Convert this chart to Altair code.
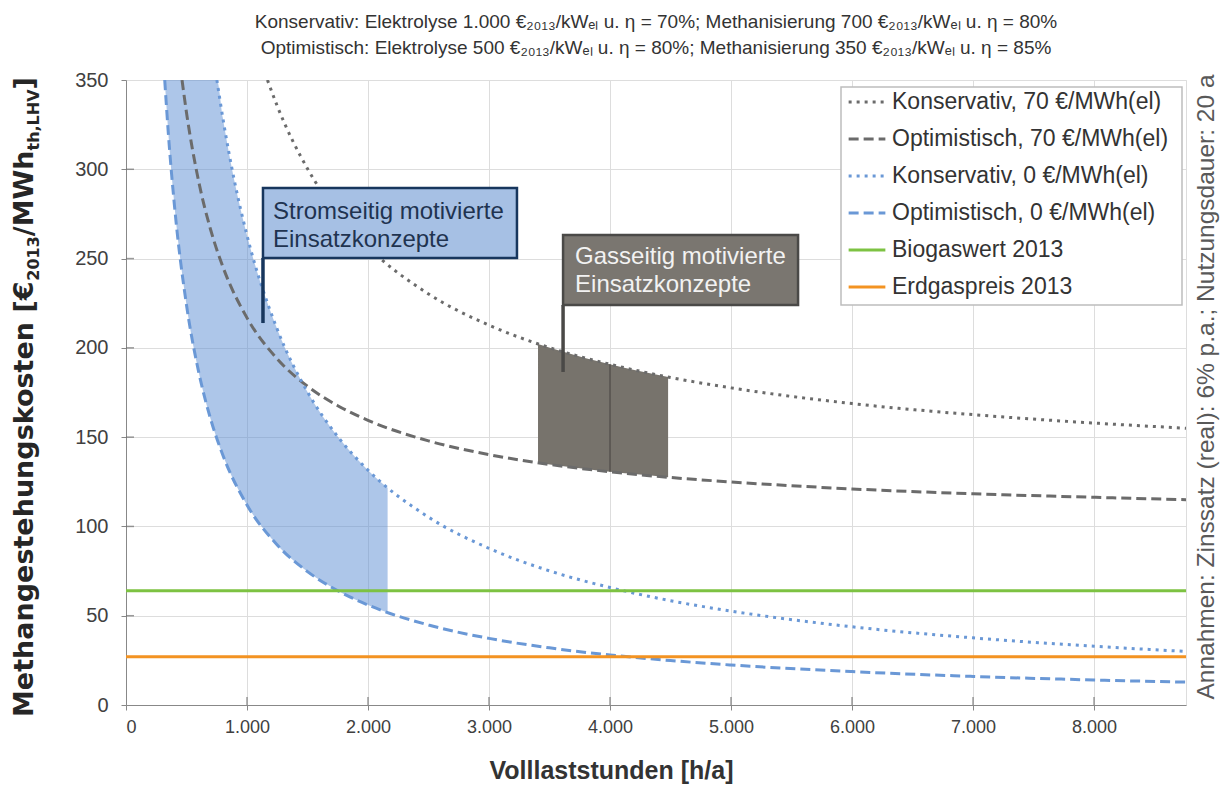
import altair as alt
import pandas as pd

# ---------------- data ----------------
S_K70 = "Konservativ, 70 €/MWh(el)"
S_O70 = "Optimistisch, 70 €/MWh(el)"
S_K0 = "Konservativ, 0 €/MWh(el)"
S_O0 = "Optimistisch, 0 €/MWh(el)"
S_BIO = "Biogaswert 2013"
S_ERD = "Erdgaspreis 2013"
series_names = [S_K70, S_O70, S_K0, S_O0, S_BIO, S_ERD]
series_colors = ["#6b6b6b", "#6b6b6b", "#6a98d6", "#6a98d6", "#7dc242", "#f39322"]
series_dashes = [[3, 5], [10, 5], [3, 5], [10, 5], [1, 0], [1, 0]]

k70_h = [1169, 1250, 1500, 1750, 2000, 2500, 3000, 3500, 4000, 4500, 5000, 6000, 7000, 8000, 8760]
k70_c = [350, 335.4, 300.3, 275.3, 256.5, 230.2, 212.7, 200.1, 190.8, 183.4, 177.6, 168.8, 162.6, 157.9, 155.0]
o70_h = [463, 500, 600, 700, 800, 1000, 1250, 1500, 1750, 2000, 2500, 3000, 3500, 4000, 4500, 5000, 6000, 7000, 8000, 8760]
o70_c = [350, 331.7, 293.4, 266.0, 245.5, 216.8, 193.8, 178.5, 167.6, 159.4, 147.9, 140.2, 134.7, 130.6, 127.4, 124.9, 121.0, 118.3, 116.3, 115.0]
k0_h = [751, 800, 900, 1000, 1250, 1500, 1750, 2000, 2500, 3000, 3500, 4000, 4500, 5000, 6000, 7000, 8000, 8760]
k0_c = [350, 328.8, 292.2, 263.0, 210.4, 175.3, 150.3, 131.5, 105.2, 87.7, 75.1, 65.8, 58.4, 52.6, 43.8, 37.6, 32.9, 30.0]
o0_h = [320, 350, 400, 500, 600, 700, 800, 1000, 1250, 1500, 1750, 2000, 2500, 3000, 3500, 4000, 4500, 5000, 6000, 7000, 8000, 8760]
o0_c = [350, 320, 280, 224, 186.7, 160, 140, 112, 89.6, 74.7, 64, 56, 44.8, 37.3, 32, 28, 24.9, 22.4, 18.7, 16, 14, 12.8]
flat_h = [0, 8760]
biogas_c = [64, 64]
erdgas_c = [27, 27]

# Stromseitig band (blue)
band_h = [320, 350, 400, 500, 600, 700, 751, 800, 900, 1000, 1250, 1500, 1750, 2000, 2162]
band_lo = [350, 320, 280, 224, 186.7, 160, 149.1, 140, 124.4, 112, 89.6, 74.7, 64, 56, 51.8]
band_hi = [350, 350, 350, 350, 350, 350, 350, 328.8, 292.2, 263.0, 210.4, 175.3, 150.3, 131.5, 121.6]

# Gasseitig band (grey)
gas_h = [3405, 3600, 3800, 4000, 4200, 4480]
gas_hi = [202.2, 198.1, 194.2, 190.8, 187.6, 183.7]
gas_lo = [135.6, 133.8, 132.1, 130.6, 129.3, 127.5]
gas_mid_h = [4000]
gas_mid_lo = [130.6]
gas_mid_hi = [190.8]

# Callouts (data coordinates)
strom_box = {"x": [1132], "x2": [3231], "y": [250.3], "y2": [289.5]}
strom_ptr = {"x": [1132], "y": [213.9], "y2": [250.3]}
strom_text = {"x": [1215, 1215], "y": [276.0, 260.4], "t": ["Stromseitig motivierte", "Einsatzkonzepte"]}
gas_box = {"x": [3612], "x2": [5554], "y": [224.0], "y2": [263.2]}
gas_ptr = {"x": [3612], "y": [186.5], "y2": [224.0]}
gas_text = {"x": [3711, 3711], "y": [250.9, 235.2], "t": ["Gasseitig motivierte", "Einsatzkonzepte"]}

x_ticks = [0, 1000, 2000, 3000, 4000, 5000, 6000, 7000, 8000]
y_ticks = [0, 50, 100, 150, 200, 250, 300, 350]

title_lines = [
    "Konservativ: Elektrolyse 1.000 €₂₀₁₃/kWₑₗ u. η = 70%; Methanisierung 700 €₂₀₁₃/kWₑₗ u. η = 80%",
    "Optimistisch: Elektrolyse 500 €₂₀₁₃/kWₑₗ u. η = 80%; Methanisierung 350 €₂₀₁₃/kWₑₗ u. η = 85%",
]
ytitle_parts = ["Methangestehungskosten [€", "2013", "/MWh", "th,LHV", "]"]
side_note = "Annahmen: Zinssatz (real): 6% p.a.; Nutzungsdauer: 20 a"

# ---------------- tables ----------------
rows = []
for name, hs, cs in [(S_K70, k70_h, k70_c), (S_O70, o70_h, o70_c), (S_K0, k0_h, k0_c),
                     (S_O0, o0_h, o0_c), (S_BIO, flat_h, biogas_c), (S_ERD, flat_h, erdgas_c)]:
    for h, c in zip(hs, cs):
        rows.append({"s": name, "h": h, "c": c})
lines_df = pd.DataFrame(rows)
band_df = pd.DataFrame({"h": band_h, "lo": band_lo, "hi": band_hi})
gas_df = pd.DataFrame({"h": gas_h, "lo": gas_lo, "hi": gas_hi})
gas_mid_df = pd.DataFrame({"h": gas_mid_h, "lo": gas_mid_lo, "hi": gas_mid_hi})
xt_df = pd.DataFrame({"v": x_ticks[1:]})
yt_df = pd.DataFrame({"v": y_ticks[1:-1]})

FONT = "Liberation Sans, Arial, Helvetica, sans-serif"

x_scale = alt.Scale(domain=[0, 8760], nice=False, zero=False)
y_scale = alt.Scale(domain=[0, 350], nice=False)

x_axis = alt.Axis(values=x_ticks, labelExpr="replace(format(datum.value, ','), ',', '.')",
                  title="Volllaststunden [h/a]", titleFont=FONT, titleFontSize=25, titleFontWeight="bold",
                  titleColor="#333333", titlePadding=22, titleX=485, titleAnchor="middle",
                  labelFont=FONT, labelFontSize=18, labelColor="#404040", labelPadding=8)
y_axis = alt.Axis(values=y_ticks, title=None, labelFont=FONT, labelFontSize=20,
                  labelColor="#404040", labelPadding=13)

X = lambda f: alt.X(f, scale=x_scale, axis=x_axis)
Y = lambda f: alt.Y(f, scale=y_scale, axis=y_axis)

band = alt.Chart(band_df).mark_area(color="#5b8dd3", opacity=0.5, interpolate="monotone", clip=True).encode(
    x=X("h:Q"), y=Y("lo:Q"), y2="hi:Q")
gas = alt.Chart(gas_df).mark_area(color="#77736c", opacity=1, interpolate="monotone").encode(
    x=X("h:Q"), y=Y("lo:Q"), y2="hi:Q")
gas_mid = alt.Chart(gas_mid_df).mark_rule(color="#55524e", strokeWidth=1.5).encode(
    x=X("h:Q"), y=Y("lo:Q"), y2="hi:Q")

# small inward ticks on both axes
xticks_in = alt.Chart(xt_df).mark_tick(color="#6f6f6f", thickness=1.5, size=8).encode(
    x=X("v:Q"), y=alt.value(621))
yticks_in = alt.Chart(yt_df).mark_tick(color="#6f6f6f", thickness=1.5, size=8).encode(
    y=Y("v:Q"), x=alt.value(4))

legend = alt.Legend(title=None, orient="none", legendX=715, legendY=-4, fillColor="transparent",
                    strokeColor="transparent", padding=6, labelFont=FONT, labelFontSize=23,
                    labelColor="#333333", symbolType="stroke", symbolStrokeWidth=3,
                    symbolSize=1350, rowPadding=5, labelOffset=5, labelLimit=0)

# legend frame
legend_box = alt.Chart(pd.DataFrame({"k": [0]})).mark_rect(
    fill="white", stroke="#bdbdbd", strokeWidth=1.5).encode(
    x=alt.value(715), x2=alt.value(1056), y=alt.value(7), y2=alt.value(225))

lines = alt.Chart(lines_df).mark_line(strokeWidth=3, interpolate="monotone", clip=True).encode(
    x=X("h:Q"), y=Y("c:Q"),
    color=alt.Color("s:N", scale=alt.Scale(domain=series_names, range=series_colors), legend=legend),
    strokeDash=alt.StrokeDash("s:N", scale=alt.Scale(domain=series_names, range=series_dashes), legend=legend),
)

def callout(box, ptr, txt, fill, stroke, tcolor):
    b = alt.Chart(pd.DataFrame(box)).mark_rect(fill=fill, stroke=stroke, strokeWidth=2.5).encode(
        x=X("x:Q"), x2="x2:Q", y=Y("y:Q"), y2="y2:Q")
    p = alt.Chart(pd.DataFrame(ptr)).mark_rule(color=stroke, strokeWidth=3.5).encode(
        x=X("x:Q"), y=Y("y:Q"), y2="y2:Q")
    t = alt.Chart(pd.DataFrame(txt)).mark_text(align="left", baseline="middle", font=FONT,
                                               fontSize=24, color=tcolor).encode(
        x=X("x:Q"), y=Y("y:Q"), text="t:N")
    return [p, b, t]

strom = callout(strom_box, strom_ptr, strom_text, "#a6c0e4", "#17365d", "#1f3350")
gasc = callout(gas_box, gas_ptr, gas_text, "#7a7670", "#4a4947", "#f2f2f2")

# y-axis title built from pieces (normal + subscript)
YT_FONT = "DejaVu Sans, Liberation Sans, sans-serif"
big, small = 27, 16
base_x, sub_x = -93, -87
starts = [637, 200.7, 156.2, 70.5, 9.4]
ytitle_layers = []
for i, (txt, yy) in enumerate(zip(ytitle_parts, starts)):
    is_sub = i in (1, 3)
    ytitle_layers.append(
        alt.Chart(pd.DataFrame({"t": [txt]})).mark_text(
            align="left", baseline="alphabetic", angle=270, font=YT_FONT, fontWeight="bold",
            fontSize=small if is_sub else big, color="#262626",
            x=sub_x if is_sub else base_x, y=yy).encode(text="t:N"))

side = alt.Chart(pd.DataFrame({"t": [side_note]})).mark_text(
    align="center", baseline="alphabetic", angle=270, font=FONT, fontSize=24.5, color="#595959",
    x=1088, y=307).encode(text="t:N")

chart = alt.layer(band, gas, gas_mid, xticks_in, yticks_in, lines, legend_box, *strom, *gasc,
                  *ytitle_layers, side).properties(
    width=1060, height=625,
    autosize="none",
    padding={"left": 118, "top": 72, "right": 35, "bottom": 79},
    title=alt.TitleParams(text=title_lines, font=FONT, fontSize=19, fontWeight="normal",
                          color="#333333", anchor="middle", lineHeight=26, offset=12),
).configure_view(stroke="#7f7f7f", strokeWidth=2.5).configure_axis(
    gridColor="#d0d0d0", gridDash=[2, 2], gridWidth=1, domain=False, ticks=False
).configure(background="white")

chart.save("out.html", embed_options={"renderer": "svg", "actions": False})
